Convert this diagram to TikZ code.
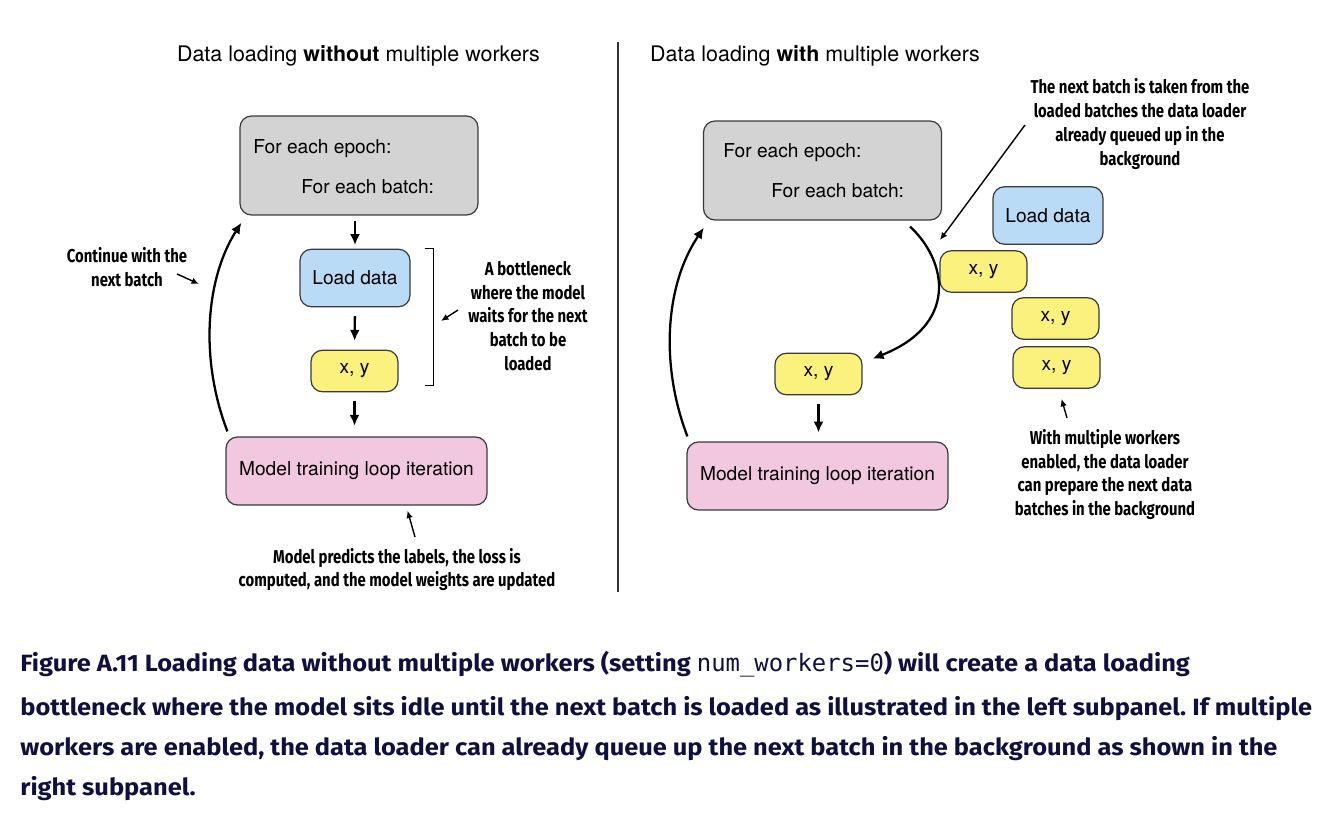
\documentclass[tikz,border=0pt]{standalone}
\usepackage{fontspec}
\setmainfont{TeX Gyre Heros}
\newfontfamily\notefont{Fira Sans}[FakeStretch=0.8]
\newfontfamily\capfont{Fira Sans}[FakeStretch=1.08]
\newfontfamily\codefont{DejaVu Sans Mono}
\usetikzlibrary{arrows.meta}
\usetikzlibrary{calc}
\frenchspacing
\definecolor{loopGray}{HTML}{D3D3D3}
\definecolor{loadBlue}{HTML}{B9DBF6}
\definecolor{batchYellow}{HTML}{FBF17D}
\definecolor{trainPink}{HTML}{F2C7E0}
\definecolor{boxLine}{HTML}{3A3A3A}
\definecolor{capNavy}{HTML}{10103F}
\tikzset{%
  >={Latex[width=2mm,length=2.2mm]},
  % Specifications for style of nodes:
        base/.style = {rectangle, rounded corners=6.5pt, draw=boxLine,
                       line width=0.7pt, inner sep=0pt,
                       font=\fontsize{10.9}{12}\selectfont},
     loopbox/.style = {base, fill=loopGray, minimum width=4.76cm, minimum height=1.98cm},
     loadbox/.style = {base, fill=loadBlue, minimum width=2.2cm, minimum height=1.15cm},
    batchbox/.style = {base, fill=batchYellow, minimum width=1.74cm, minimum height=0.83cm},
    trainbox/.style = {base, fill=trainPink, minimum width=5.22cm, minimum height=1.36cm},
    looptext/.style = {anchor=west, inner sep=0pt, font=\fontsize{10.9}{12}\selectfont},
       title/.style = {inner sep=0pt, font=\fontsize{12.2}{14}\selectfont},
        note/.style = {align=center, inner sep=0pt,
                       font=\notefont\bfseries\fontsize{10.6}{13.6}\selectfont},
     caption/.style = {anchor=base west, inner sep=0pt, text=capNavy,
                       font=\capfont\bfseries\fontsize{13.4}{14}\selectfont},
        flow/.style = {->, line width=1.3pt},
     pointer/.style = {-{Latex[width=1.3mm,length=1.5mm]}, line width=0.8pt},
}
\begin{document}
\begin{tikzpicture}[x=0.02cm, y=-0.02cm]
  \useasboundingbox (0,0) rectangle (1326,814);

  % Left panel: without multiple workers
  \node (titleL) [title] at (358.5,56) {Data loading \textbf{without} multiple workers};
  \node (loopL)  [loopbox]  at (359,165.5) {};
  \node (epochL) [looptext] at (253,149) {For each epoch:};
  \node (batchL) [looptext] at (301,187) {For each batch:};
  \node (loadL)  [loadbox]  at (355,278) {Load data};
  \node (xyL)    [batchbox] at (354.5,371) {x, y};
  \node (trainL) [trainbox] at (356.5,471) {Model training loop iteration};

  \draw[flow, shorten <=3pt, shorten >=2pt] (loadL.north |- loopL.south) -- (loadL.north);
  \draw[flow, shorten <=5pt, shorten >=5pt] (loadL.south) -- (xyL.north);
  \draw[flow, shorten <=5pt, shorten >=6pt] (xyL.south) -- (trainL.north -| xyL.south);
  \draw[flow] ($(trainL.north west)+(2,-5)$) .. controls (200,360) and (205,280)
    .. ($(loopL.south west)+(2,7)$);

  % bracket round the loading steps
  \coordinate (brTop) at ($(loadL.north east)+(23,0)$);
  \coordinate (brBot) at ($(xyL.south east)+(35,-7)$);
  \draw[line width=0.9pt] ($(brTop)+(-9,0)$) -- (brTop) -- (brTop |- brBot) -- ($(brTop |- brBot)+(-9,0)$);

  \node (bottleNote) [note] at (528,316)
    {A bottleneck\\where the model\\waits for the next\\batch to be\\loaded};
  \coordinate (bottleTip) at (441,321);
  \draw[pointer] (458,310) -- (bottleTip);

  \node (continueNote) [note] at (127,267.5) {Continue with the\\next batch};
  \coordinate (continueTip) at (199,284);
  \draw[pointer] (177,274) -- (continueTip);

  \node (updateNote) [note] at (397,569.5)
    {Model predicts the labels, the loss is\\computed, and the model weights are updated};
  \draw[pointer] (415,537) -- ($(trainL.south)+(51,5)$);

  \coordinate (divTop) at (618,42);
  \coordinate (divBot) at (618,592);
  \draw[line width=0.8pt, black!80] (divTop) -- (divBot);

  % Right panel: with multiple workers
  \node (titleR) [title] at (815,56) {Data loading \textbf{with} multiple workers};
  \node (loopR)  [loopbox]  at (822.5,170.5) {};
  \node (epochR) [looptext] at (723,153) {For each epoch:};
  \node (batchR) [looptext] at (771,191) {For each batch:};
  \node (loadR)  [loadbox]  at (1048,215.5) {Load data};
  \node (queueA) [batchbox] at (983.5,271.5) {x, y};
  \node (queueB) [batchbox] at (1055.5,318.5) {x, y};
  \node (queueC) [batchbox] at (1056.5,367.5) {x, y};
  \node (xyR)    [batchbox] at (818.5,374) {x, y};
  \node (trainR) [trainbox] at (817.5,476) {Model training loop iteration};

  \draw[flow, shorten <=5pt, shorten >=5pt] (xyR.south) -- (trainR.north -| xyR.south);
  \draw[flow] ($(trainR.north west)+(1,-5)$) .. controls (660,365) and (665,285)
    .. ($(loopR.south west)+(1,7)$);
  \draw[flow] ($(loopR.south east)+(-32,6)$) .. controls (948,262) and (958,325)
    .. ($(xyR.north east)+(10,6)$);

  \node (takenNote) [note] at (1140,124)
    {The next batch is taken from the\\loaded batches the data loader\\already queued up in the\\background};
  \draw[pointer] (1025,125) -- (940,240);

  \node (workerNote) [note] at (1105,474.5)
    {With multiple workers\\enabled, the data loader\\can prepare the next data\\batches in the background};
  \draw[pointer] (1067,418) -- ($(queueC.south)+(5,10)$);

  % Caption
  \node (capA) [caption] at (20,671) {Figure A.11 Loading data without multiple workers (setting
    {\codefont\mdseries\fontsize{13.6}{14}\selectfont num\_workers=0}) will create a data loading};
  \node (capB) [caption] at (20,715) {bottleneck where the model sits idle until the next batch is loaded as illustrated in the left subpanel. If multiple};
  \node (capC) [caption] at (20,755) {workers are enabled, the data loader can already queue up the next batch in the background as shown in the};
  \node (capD) [caption] at (20,795) {right subpanel.};
\end{tikzpicture}
\end{document}
